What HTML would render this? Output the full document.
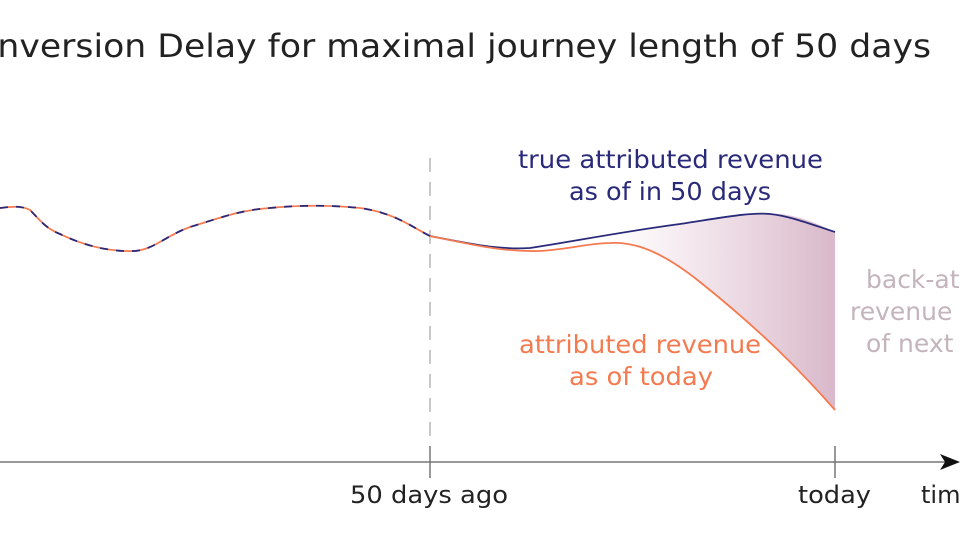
<!DOCTYPE html>
<html><head><meta charset="utf-8"><style>
html,body{margin:0;padding:0;background:#fff;width:960px;height:540px;overflow:hidden}
svg{display:block}
text{font-family:"DejaVu Sans","Liberation Sans",sans-serif}
</style></head><body>
<svg width="960" height="540" viewBox="0 0 960 540" xmlns="http://www.w3.org/2000/svg">
<defs>
<linearGradient id="g" x1="0" x2="1" y1="0" y2="0">
<stop offset="0" stop-color="#d8aac0" stop-opacity="0"/>
<stop offset="1" stop-color="#c89ab2" stop-opacity="0.7"/>
</linearGradient>
</defs>
<text x="-48" y="57" font-size="32" textLength="979" lengthAdjust="spacingAndGlyphs" fill="#222">Conversion Delay for maximal journey length of 50 days</text>
<line x1="430" y1="158" x2="430" y2="446" stroke="#c8c8c8" stroke-width="2" stroke-dasharray="14,10"/>
<path d="M610,243 C640,241 670,258 700,282 C760,330 800,370 835,410 L835,232 C800,215 780,212 760,214 C720,218 680,224 610,236 Z" fill="url(#g)"/>
<path d="M0,208 C10,207 20,205 30,210 C40,220 45,228 60,234 C85,246 110,252 135,251 C155,249 165,236 190,227 C220,218 240,210 270,208 C300,205 330,205 360,208 C395,213 410,226 430,236" fill="none" stroke="#f47a50" stroke-width="1.8"/>
<path d="M0,208 C10,207 20,205 30,210 C40,220 45,228 60,234 C85,246 110,252 135,251 C155,249 165,236 190,227 C220,218 240,210 270,208 C300,205 330,205 360,208 C395,213 410,226 430,236" fill="none" stroke="#2a2a7a" stroke-width="1.8" stroke-dasharray="8,8"/>
<path d="M430,236 C470,244 500,250 530,248 C570,242 620,232 680,224 C720,218 750,212 770,214 C790,216 810,224 835,232" fill="none" stroke="#2a2a7a" stroke-width="1.8"/>
<path d="M430,236 C470,244 500,252 540,251 C570,249 590,243 610,243 C640,241 670,258 700,282 C760,330 800,370 835,410" fill="none" stroke="#f47a50" stroke-width="1.8"/>
<text x="518" y="168" font-size="25" textLength="305" lengthAdjust="spacingAndGlyphs" fill="#2a2a7a">true attributed revenue</text>
<text x="569" y="200" font-size="25" textLength="202" lengthAdjust="spacingAndGlyphs" fill="#2a2a7a">as of in 50 days</text>
<text x="519" y="353" font-size="25" textLength="242" lengthAdjust="spacingAndGlyphs" fill="#f47a50">attributed revenue</text>
<text x="569" y="385" font-size="25" textLength="144" lengthAdjust="spacingAndGlyphs" fill="#f47a50">as of today</text>
<text x="866" y="288" font-size="25" fill="#c4b4bc">back-attributed</text>
<text x="850" y="320" font-size="25" fill="#c4b4bc">revenue</text>
<text x="866" y="352" font-size="25" fill="#c4b4bc">of next</text>
<line x1="0" y1="462" x2="948" y2="462" stroke="#777" stroke-width="1.5"/>
<path d="M960,462 L940,454 L945,462 L940,470 Z" fill="#111"/>
<line x1="430" y1="446" x2="430" y2="478" stroke="#777" stroke-width="1.5"/>
<line x1="835" y1="446" x2="835" y2="478" stroke="#777" stroke-width="1.5"/>
<text x="350" y="503" font-size="24" textLength="158" lengthAdjust="spacingAndGlyphs" fill="#222">50 days ago</text>
<text x="798" y="503" font-size="24" textLength="73" lengthAdjust="spacingAndGlyphs" fill="#222">today</text>
<text x="921" y="503" font-size="24" fill="#222">time</text>
</svg>
</body></html>
